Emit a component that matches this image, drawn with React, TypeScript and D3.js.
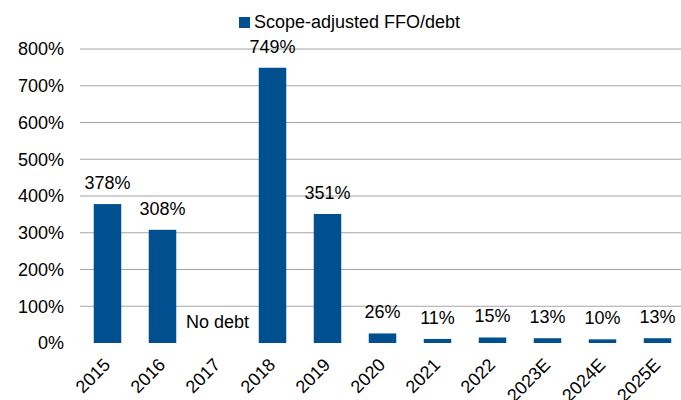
import React from 'react';
import { scaleBand, scaleLinear } from 'd3';

const width = 681;
const height = 400;

const years = ['2015', '2016', '2017', '2018', '2019', '2020', '2021', '2022', '2023E', '2024E', '2025E'];
const ffoDebt: (number | null)[] = [378, 308, null, 749, 351, 26, 11, 15, 13, 10, 13];
const yTicks = [0, 100, 200, 300, 400, 500, 600, 700, 800];
const seriesName = 'Scope-adjusted FFO/debt';
const missingLabel = 'No debt';

const font = 'Arial, "Liberation Sans", sans-serif';
const barColor = '#004f8f';

const App = () => {
  const xScale = scaleBand()
    .domain(years)
    .range([80, 685])
    .paddingInner(0.5)
    .paddingOuter(0.25);

  const yScale = scaleLinear()
    .domain([0, 800])
    .range([343, 49]);

  return (
    <svg
      width={width}
      height={height}
      style={{ position: 'absolute', left: 0, top: 0, background: '#fff' }}
      fontFamily={font}
    >
      {/* gridlines */}
      {yTicks.filter(t => t > 0).map(t => (
        <line key={t} x1={80} x2={width} y1={yScale(t)} y2={yScale(t)} stroke="#a6a6a6" strokeWidth={1.2} />
      ))}
      {/* y tick labels */}
      {yTicks.map(t => (
        <text key={t} x={64} y={yScale(t)} dy="0.35em" textAnchor="end" fontSize={18} fill="#000">
          {t}%
        </text>
      ))}
      {/* bars */}
      {years.map((y, i) => {
        const v = ffoDebt[i];
        if (v === null) return null;
        return (
          <rect
            key={y}
            x={xScale(y)}
            y={yScale(v)}
            width={xScale.bandwidth()}
            height={yScale(0) - yScale(v)}
            fill={barColor}
          />
        );
      })}
      {/* value labels */}
      {years.map((y, i) => {
        const v = ffoDebt[i];
        const cx = (xScale(y) as number) + xScale.bandwidth() / 2;
        return (
          <text key={y} x={cx} y={v === null ? 328 : yScale(v) - 15} textAnchor="middle" fontSize={18} fill="#000">
            {v === null ? missingLabel : `${v}%`}
          </text>
        );
      })}
      {/* x labels */}
      {years.map(y => {
        const cx = (xScale(y) as number) + xScale.bandwidth() / 2;
        return (
          <text
            key={y}
            transform={`translate(${cx - 5},${357}) rotate(-45)`}
            textAnchor="end"
            dy="0.7em"
            fontSize={18}
            fill="#000"
          >
            {y}
          </text>
        );
      })}
      {/* legend */}
      <rect x={239} y={17} width={11} height={11} fill={barColor} />
      <text x={254} y={28} fontSize={18} fill="#000">{seriesName}</text>
    </svg>
  );
};

export default App;
